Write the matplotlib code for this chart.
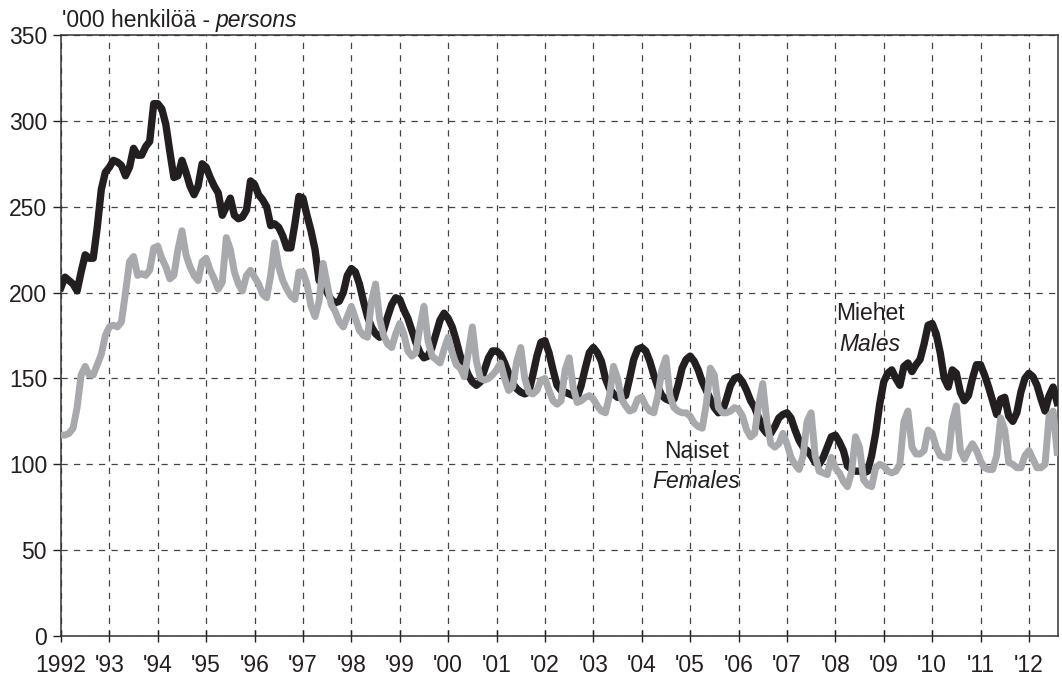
import numpy as np
import matplotlib
matplotlib.use("Agg")
import matplotlib.pyplot as plt

# Monthly values, '000 persons, Jan 1992 - Aug 2012
males = [
    203, 209, 207, 205, 201, 212, 222, 220, 220, 238, 260, 270,  # 1992
    273, 277, 276, 274, 268, 273, 284, 280, 280, 285, 288, 310,  # 1993
    310, 307, 298, 282, 267, 268, 277, 270, 262, 257, 262, 275,  # 1994
    273, 267, 262, 258, 245, 250, 255, 245, 243, 244, 248, 265,  # 1995
    263, 257, 254, 250, 239, 240, 238, 233, 226, 226, 240, 256,  # 1996
    255, 245, 236, 225, 207, 205, 200, 196, 194, 195, 200, 210,  # 1997
    214, 212, 205, 195, 186, 180, 176, 174, 178, 186, 193, 197,  # 1998
    196, 190, 185, 178, 171, 165, 162, 163, 168, 176, 184, 188,  # 1999
    185, 180, 172, 163, 158, 152, 148, 146, 148, 155, 162, 166,  # 2000
    166, 164, 159, 153, 147, 144, 142, 141, 142, 152, 163, 171,  # 2001
    172, 165, 155, 146, 143, 142, 141, 140, 139, 146, 156, 165,  # 2002
    168, 165, 160, 150, 144, 141, 139, 139, 140, 150, 161, 167,  # 2003
    168, 166, 160, 152, 145, 140, 138, 137, 138, 146, 156, 161,  # 2004
    163, 160, 155, 148, 143, 138, 133, 130, 131, 138, 146, 150,  # 2005
    151, 148, 143, 137, 133, 127, 121, 118, 118, 122, 127, 129,  # 2006
    130, 127, 120, 114, 110, 108, 105, 101, 100, 104, 110, 116,  # 2007
    117, 113, 108, 99, 97, 96, 96, 95, 96, 105, 118, 135,        # 2008
    148, 153, 155, 150, 146, 157, 159, 154, 158, 161, 170, 181,  # 2009
    182, 176, 165, 150, 145, 155, 153, 142, 137, 140, 150, 158,  # 2010
    158, 152, 145, 137, 129, 138, 139, 128, 125, 130, 142, 150,  # 2011
    153, 151, 146, 138, 131, 140, 145, 136,                      # 2012
]

females = [
    117, 117, 118, 121, 133, 152, 157, 152, 152, 158, 164, 175,  # 1992
    180, 181, 180, 183, 200, 218, 221, 210, 211, 210, 213, 226,  # 1993
    227, 220, 215, 208, 210, 225, 236, 222, 215, 210, 207, 218,  # 1994
    220, 213, 208, 202, 206, 232, 225, 212, 205, 201, 210, 213,  # 1995
    209, 205, 199, 197, 210, 229, 215, 207, 202, 198, 196, 212,  # 1996
    212, 205, 192, 186, 195, 217, 205, 193, 189, 183, 180, 186,  # 1997
    192, 185, 178, 175, 174, 195, 205, 185, 175, 170, 168, 176,  # 1998
    182, 176, 166, 163, 165, 180, 192, 172, 163, 161, 159, 167,  # 1999
    174, 165, 158, 156, 151, 165, 180, 160, 150, 149, 150, 152,  # 2000
    155, 159, 150, 143, 145, 160, 168, 150, 142, 141, 143, 149,  # 2001
    150, 143, 137, 135, 137, 155, 162, 145, 136, 137, 139, 140,  # 2002
    138, 134, 131, 130, 140, 157, 150, 138, 134, 131, 132, 138,  # 2003
    139, 134, 131, 130, 140, 155, 162, 140, 133, 131, 130, 130,  # 2004
    128, 124, 122, 121, 135, 156, 152, 133, 130, 130, 131, 133,  # 2005
    132, 128, 120, 116, 118, 135, 147, 125, 112, 110, 112, 118,  # 2006
    112, 104, 100, 97, 105, 125, 130, 105, 96, 95, 94, 104,      # 2007
    98, 95, 90, 87, 95, 116, 110, 91, 88, 87, 98, 100,           # 2008
    99, 96, 95, 96, 100, 125, 131, 110, 106, 106, 108, 120,      # 2009
    118, 110, 105, 104, 104, 125, 134, 108, 103, 108, 112, 108,  # 2010
    102, 98, 97, 97, 105, 127, 120, 101, 100, 98, 98, 105,       # 2011
    108, 103, 98, 98, 100, 128, 131, 107,                        # 2012
]

years = list(range(1992, 2013))
year_labels = ["1992"] + ["'" + str(y)[2:] for y in years[1:]]
y_ticks = [0, 50, 100, 150, 200, 250, 300, 350]

BLACK = "#231f20"
GREY = "#a7a9ac"
FS = 16.5

plt.rcParams["font.family"] = ["Liberation Sans", "DejaVu Sans"]


def main():
    x = 1992 + np.arange(len(males)) / 12.0

    fig = plt.figure(figsize=(10.62, 6.82), dpi=100)
    ax = fig.add_axes([0.0574, 0.0674, 0.9388, 0.8813])

    ax.plot(x, males, color=BLACK, lw=5.3, solid_joinstyle="round", zorder=3)
    ax.plot(x, females, color=GREY, lw=5.0, solid_joinstyle="round", zorder=4)

    ax.set_xlim(1992, 2012.6)
    ax.set_ylim(0, 350)
    ax.set_xticks(years)
    ax.set_xticklabels(year_labels, fontsize=FS)
    ax.set_yticks(y_ticks)
    ax.set_yticklabels([str(v) for v in y_ticks], fontsize=FS)
    ax.tick_params(axis="x", direction="inout", length=9, width=1, pad=8.5, colors=BLACK)
    ax.tick_params(axis="y", direction="out", length=6, width=1, pad=4, colors=BLACK)

    ax.grid(True, color="#444444", lw=0.9, linestyle=(0, (5, 5)), zorder=1)
    for s in ax.spines.values():
        s.set_color("#333333")
        s.set_linewidth(1.1)

    # series labels
    ax.text(2008.72, 188, "Miehet", fontsize=FS, ha="center", va="center", color=BLACK, zorder=5)
    ax.text(2008.72, 169.5, "Males", fontsize=FS, style="italic", ha="center", va="center",
            color=BLACK, zorder=5)
    ax.text(2005.13, 107.5, "Naiset", fontsize=FS, ha="center", va="center", color=BLACK, zorder=5)
    ax.text(2005.13, 89.7, "Females", fontsize=FS, style="italic", ha="center", va="center",
            color=BLACK, zorder=5)

    # unit title above the axes
    t1 = fig.text(62 / 1062, 1 - 27 / 682, "'000 henkilöä -", fontsize=16.5, color=BLACK,
                  ha="left", va="baseline")
    ax.annotate("persons", xy=(1, 0), xycoords=t1, xytext=(4, 0), textcoords="offset points",
                fontsize=16.5, style="italic", color=BLACK, ha="left", va="bottom",
                annotation_clip=False)

    fig.savefig("out.png", dpi=100)


if __name__ == "__main__":
    main()
